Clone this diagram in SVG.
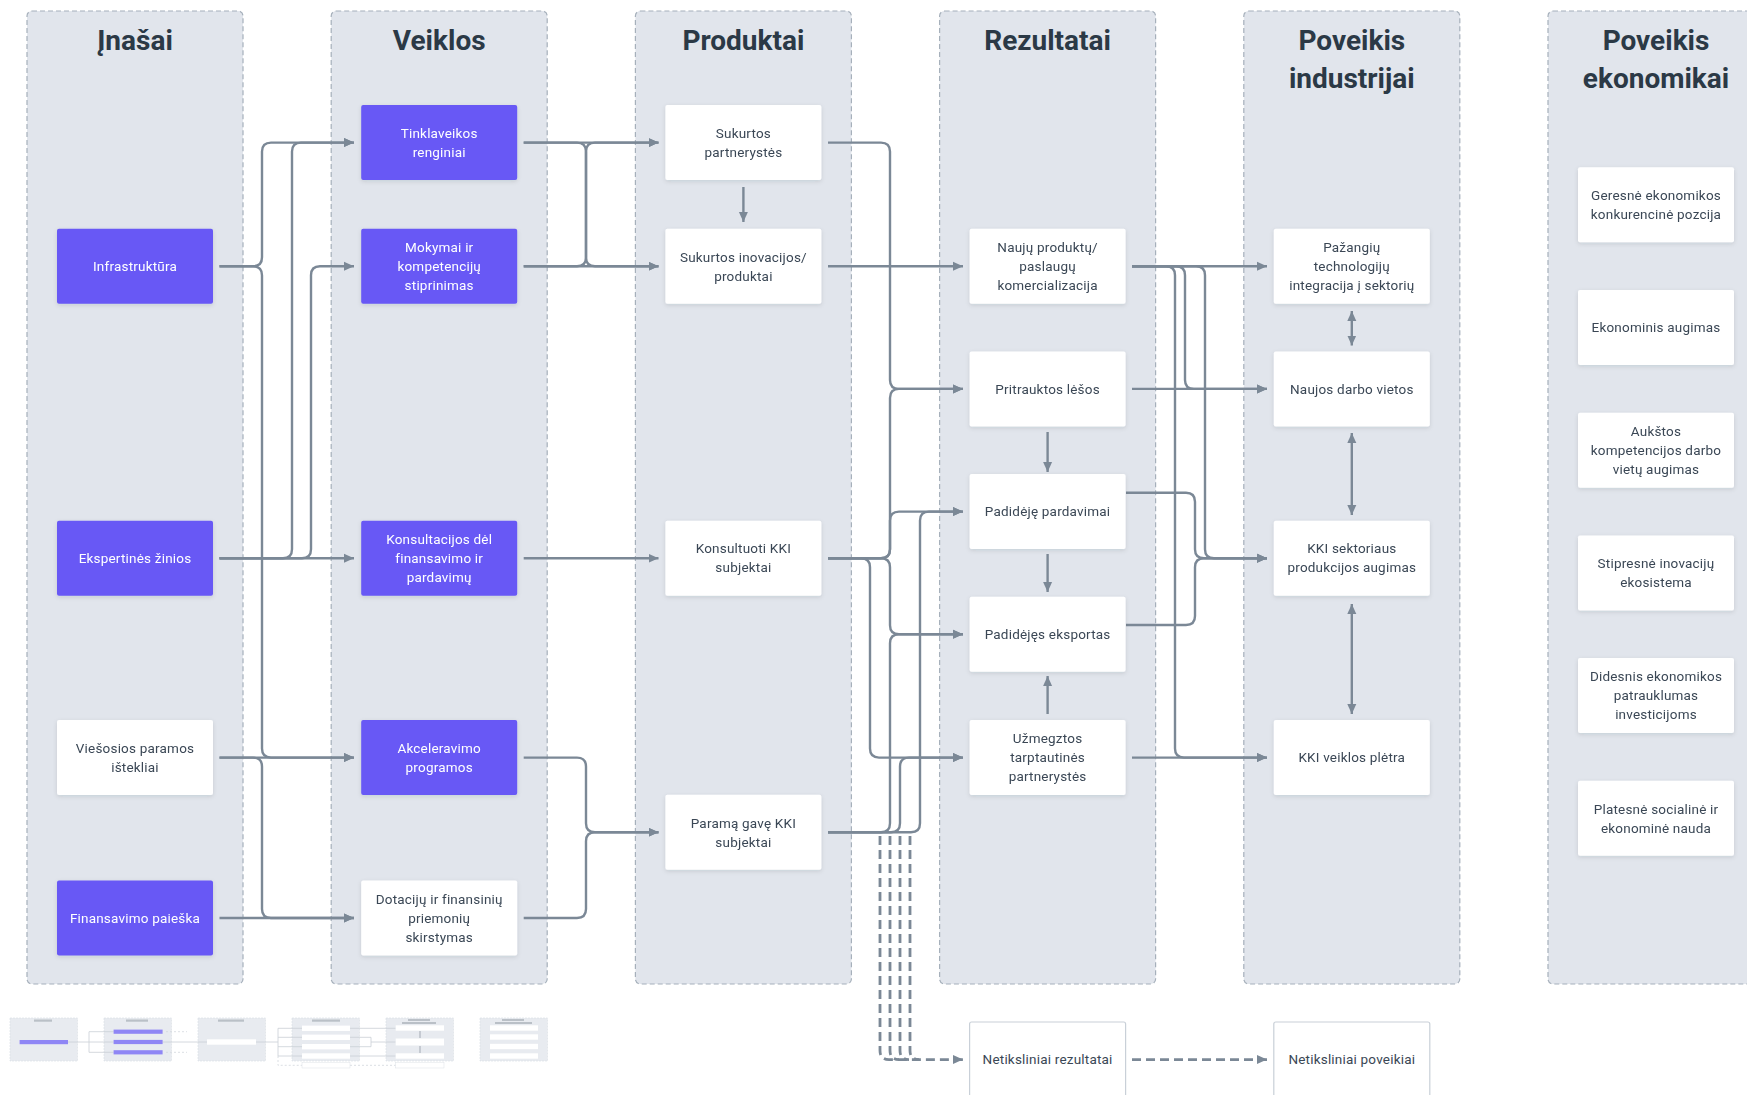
<svg xmlns="http://www.w3.org/2000/svg" width="1747" height="1095" viewBox="0 0 1747 1095">
<style>
.col{fill:#e1e5ec;stroke:#a6b0bb;stroke-width:1.2;stroke-dasharray:5 3}
.title{font-family:Roboto,"Liberation Sans",sans-serif;font-weight:700;font-size:28px;fill:#2b3946;text-anchor:middle}
.np rect{fill:#6759f5}
.nw rect{fill:#ffffff}
.np text,.nw text{font-family:Roboto,"Liberation Sans",sans-serif;font-size:13.5px;text-anchor:middle;letter-spacing:0.2px}
.np text{fill:#ffffff}
.nw text{fill:#3a4755}
.nb rect{fill:#ffffff;stroke:#c9d0d8;stroke-width:1.2}
.nb text{font-family:Roboto,"Liberation Sans",sans-serif;font-size:13.5px;text-anchor:middle;fill:#3a4755;letter-spacing:0.2px}
.c path{fill:none;stroke:#7b8896;stroke-width:2.4}
.c .a{marker-end:url(#ah)}
.c .b{marker-start:url(#ah);marker-end:url(#ah)}
.c .d{stroke-dasharray:9 5;stroke-width:2.8}
.mc{fill:#e3e7ed;stroke:#d0d6dd;stroke-width:0.6;stroke-dasharray:2 1}
.mt{fill:#a9b1ba}
.mp{fill:#7468f3}
.mw{fill:#ffffff}
.ml{fill:none;stroke:#bcc4cc;stroke-width:0.8}
.md{fill:none;stroke:#c6cdd4;stroke-width:0.8;stroke-dasharray:2 2}
</style>
<defs>
<marker id="ah" viewBox="0 0 10 10" refX="10" refY="5" markerWidth="10" markerHeight="10" markerUnits="userSpaceOnUse" orient="auto-start-reverse"><path d="M0,0.5 L10,5 L0,9.5 z" fill="#7b8896"/></marker>
<filter id="sh" x="-10%" y="-15%" width="120%" height="140%"><feDropShadow dx="0" dy="1.5" stdDeviation="2" flood-color="#1e2a3a" flood-opacity="0.12"/></filter>
</defs>
<rect width="1747" height="1095" fill="#ffffff"/>

<g id="columns">
<rect class="col" x="27" y="11" width="216" height="973" rx="5"/>
<rect class="col" x="331.2" y="11" width="216" height="973" rx="5"/>
<rect class="col" x="635.4" y="11" width="216" height="973" rx="5"/>
<rect class="col" x="939.6" y="11" width="216" height="973" rx="5"/>
<rect class="col" x="1243.8" y="11" width="216" height="973" rx="5"/>
<rect class="col" x="1548" y="11" width="216" height="973" rx="5"/>
<text class="title" x="135" y="50">Įnašai</text>
<text class="title" x="439.2" y="50">Veiklos</text>
<text class="title" x="743.4" y="50">Produktai</text>
<text class="title" x="1047.6" y="50">Rezultatai</text>
<text class="title" x="1351.8"><tspan x="1351.8" y="50">Poveikis</tspan><tspan x="1351.8" y="88">industrijai</tspan></text>
<text class="title" x="1656"><tspan x="1656" y="50">Poveikis</tspan><tspan x="1656" y="88">ekonomikai</tspan></text>
</g>

<g id="connectors" class="c">
<path class="a" d="M219.5 266.3 H253 Q262 266.3 262 257.3 V151.6 Q262 142.6 271 142.6 H354"/>
<path class="a" d="M219.5 266.3 H253 Q262 266.3 262 275.3 V748.6 Q262 757.6 271 757.6 H354"/>
<path class="a" d="M219.5 757.6 H253 Q262 757.6 262 766.6 V909 Q262 918 271 918 H354"/>
<path class="a" d="M219.5 757.6 H354"/>
<path class="a" d="M219.5 918 H354"/>
<path class="a" d="M219.5 558.2 H283 Q292 558.2 292 549.2 V151.6 Q292 142.6 301 142.6 H354"/>
<path class="a" d="M219.5 558.2 H302 Q311 558.2 311 549.2 V275.3 Q311 266.3 320 266.3 H354"/>
<path class="a" d="M219.5 558.2 H354"/>
<path class="a" d="M523.7 142.6 H658.5"/>
<path class="a" d="M523.7 266.3 H658.5"/>
<path class="a" d="M523.7 142.6 H577 Q586 142.6 586 151.6 V257.3 Q586 266.3 595 266.3 H658.5"/>
<path class="a" d="M523.7 266.3 H577 Q586 266.3 586 257.3 V151.6 Q586 142.6 595 142.6 H658.5"/>
<path class="a" d="M523.7 558.2 H658.5"/>
<path class="a" d="M523.7 757.6 H577 Q586 757.6 586 766.6 V823.3 Q586 832.3 595 832.3 H658.5"/>
<path class="a" d="M523.7 918 H577 Q586 918 586 909 V841.3 Q586 832.3 595 832.3 H658.5"/>
<path class="a" d="M743.4 187 V222"/>
<path class="a" d="M828 142.6 H881 Q890 142.6 890 151.6 V379.9 Q890 388.9 899 388.9 H963"/>
<path class="a" d="M828 266.3 H963"/>
<path class="a" d="M828 558.2 H881 Q890 558.2 890 549.2 V397.9 Q890 388.9 899 388.9 H963"/>
<path class="a" d="M828 558.2 H881 Q890 558.2 890 549.2 V520.6 Q890 511.6 899 511.6 H963"/>
<path class="a" d="M828 558.2 H881 Q890 558.2 890 567.2 V625.3 Q890 634.3 899 634.3 H963"/>
<path class="a" d="M828 558.2 H861 Q870 558.2 870 567.2 V748.6 Q870 757.6 879 757.6 H963"/>
<path class="a" d="M828 832.3 H881 Q890 832.3 890 823.3 V643.3 Q890 634.3 899 634.3 H963"/>
<path class="a" d="M828 832.3 H891 Q900 832.3 900 823.3 V766.6 Q900 757.6 909 757.6 H963"/>
<path class="a" d="M828 832.3 H911 Q920 832.3 920 823.3 V520.6 Q920 511.6 929 511.6 H963"/>
<path class="a d" d="M880 836 V1050.6 Q880 1059.6 889 1059.6 H963"/>
<path class="d" d="M890 836 V1050.6 Q890 1059.6 899 1059.6"/>
<path class="d" d="M900 836 V1050.6 Q900 1059.6 909 1059.6"/>
<path class="d" d="M910 836 V1050.6 Q910 1059.6 919 1059.6"/>
<path class="a" d="M1047.6 432 V472"/>
<path class="a" d="M1047.6 554 V592"/>
<path class="a" d="M1047.6 714 V676"/>
<path class="a" d="M1132 266.3 H1267"/>
<path class="a" d="M1132 266.3 H1176 Q1185 266.3 1185 275.3 V379.9 Q1185 388.9 1194 388.9 H1267"/>
<path class="a" d="M1132 266.3 H1166 Q1175 266.3 1175 275.3 V748.6 Q1175 757.6 1184 757.6 H1267"/>
<path class="a" d="M1132 266.3 H1196 Q1205 266.3 1205 275.3 V549.2 Q1205 558.2 1214 558.2 H1267"/>
<path class="a" d="M1132 388.9 H1267"/>
<path class="a" d="M1126 492.7 H1186 Q1195 492.7 1195 501.7 V549.2 Q1195 558.2 1204 558.2 H1267"/>
<path class="a" d="M1126 625 H1186 Q1195 625 1195 616 V567.2 Q1195 558.2 1204 558.2 H1267"/>
<path class="a" d="M1132 757.6 H1267"/>
<path class="a d" d="M1132 1059.6 H1267"/>
<path class="b" d="M1351.8 311 V345.5"/>
<path class="b" d="M1351.8 433 V515"/>
<path class="b" d="M1351.8 604 V714"/>
</g>

<g id="n-infrastruktura" class="np" filter="url(#sh)"><rect x="57" y="228.8" width="156" height="75" rx="2"/><text x="135" y="271">Infrastruktūra</text></g>
<g id="n-ekspertines" class="np" filter="url(#sh)"><rect x="57" y="520.7" width="156" height="75" rx="2"/><text x="135" y="562.9">Ekspertinės žinios</text></g>
<g id="n-viesosios" class="nw" filter="url(#sh)"><rect x="57" y="720.1" width="156" height="75" rx="2"/><text><tspan x="135" y="752.8">Viešosios paramos</tspan><tspan x="135" y="771.8">ištekliai</tspan></text></g>
<g id="n-finansavimo" class="np" filter="url(#sh)"><rect x="57" y="880.5" width="156" height="75" rx="2"/><text x="135" y="922.7">Finansavimo paieška</text></g>

<g id="n-tinklaveikos" class="np" filter="url(#sh)"><rect x="361.2" y="105.1" width="156" height="75" rx="2"/><text><tspan x="439.2" y="137.8">Tinklaveikos</tspan><tspan x="439.2" y="156.8">renginiai</tspan></text></g>
<g id="n-mokymai" class="np" filter="url(#sh)"><rect x="361.2" y="228.8" width="156" height="75" rx="2"/><text><tspan x="439.2" y="252">Mokymai ir</tspan><tspan x="439.2" y="271">kompetencijų</tspan><tspan x="439.2" y="290">stiprinimas</tspan></text></g>
<g id="n-konsultacijos" class="np" filter="url(#sh)"><rect x="361.2" y="520.7" width="156" height="75" rx="2"/><text><tspan x="439.2" y="543.9">Konsultacijos dėl</tspan><tspan x="439.2" y="562.9">finansavimo ir</tspan><tspan x="439.2" y="581.9">pardavimų</tspan></text></g>
<g id="n-akceleravimo" class="np" filter="url(#sh)"><rect x="361.2" y="720.1" width="156" height="75" rx="2"/><text><tspan x="439.2" y="752.8">Akceleravimo</tspan><tspan x="439.2" y="771.8">programos</tspan></text></g>
<g id="n-dotaciju" class="nw" filter="url(#sh)"><rect x="361.2" y="880.5" width="156" height="75" rx="2"/><text><tspan x="439.2" y="903.7">Dotacijų ir finansinių</tspan><tspan x="439.2" y="922.7">priemonių</tspan><tspan x="439.2" y="941.7">skirstymas</tspan></text></g>

<g id="n-partnerystes" class="nw" filter="url(#sh)"><rect x="665.4" y="105.1" width="156" height="75" rx="2"/><text><tspan x="743.4" y="137.8">Sukurtos</tspan><tspan x="743.4" y="156.8">partnerystės</tspan></text></g>
<g id="n-inovacijos" class="nw" filter="url(#sh)"><rect x="665.4" y="228.8" width="156" height="75" rx="2"/><text><tspan x="743.4" y="261.5">Sukurtos inovacijos/</tspan><tspan x="743.4" y="280.5">produktai</tspan></text></g>
<g id="n-konsultuoti" class="nw" filter="url(#sh)"><rect x="665.4" y="520.7" width="156" height="75" rx="2"/><text><tspan x="743.4" y="553.4">Konsultuoti KKI</tspan><tspan x="743.4" y="572.4">subjektai</tspan></text></g>
<g id="n-parama" class="nw" filter="url(#sh)"><rect x="665.4" y="794.8" width="156" height="75" rx="2"/><text><tspan x="743.4" y="827.5">Paramą gavę KKI</tspan><tspan x="743.4" y="846.5">subjektai</tspan></text></g>

<g id="n-nauju" class="nw" filter="url(#sh)"><rect x="969.6" y="228.8" width="156" height="75" rx="2"/><text><tspan x="1047.6" y="252">Naujų produktų/</tspan><tspan x="1047.6" y="271">paslaugų</tspan><tspan x="1047.6" y="290">komercializacija</tspan></text></g>
<g id="n-pritrauktos" class="nw" filter="url(#sh)"><rect x="969.6" y="351.4" width="156" height="75" rx="2"/><text x="1047.6" y="393.6">Pritrauktos lėšos</text></g>
<g id="n-pardavimai" class="nw" filter="url(#sh)"><rect x="969.6" y="474.1" width="156" height="75" rx="2"/><text x="1047.6" y="516.3">Padidėję pardavimai</text></g>
<g id="n-eksportas" class="nw" filter="url(#sh)"><rect x="969.6" y="596.8" width="156" height="75" rx="2"/><text x="1047.6" y="639">Padidėjęs eksportas</text></g>
<g id="n-uzmegztos" class="nw" filter="url(#sh)"><rect x="969.6" y="720.1" width="156" height="75" rx="2"/><text><tspan x="1047.6" y="743.3">Užmegztos</tspan><tspan x="1047.6" y="762.3">tarptautinės</tspan><tspan x="1047.6" y="781.3">partnerystės</tspan></text></g>

<g id="n-pazangiu" class="nw" filter="url(#sh)"><rect x="1273.8" y="228.8" width="156" height="75" rx="2"/><text><tspan x="1351.8" y="252">Pažangių</tspan><tspan x="1351.8" y="271">technologijų</tspan><tspan x="1351.8" y="290">integracija į sektorių</tspan></text></g>
<g id="n-darbo-vietos" class="nw" filter="url(#sh)"><rect x="1273.8" y="351.4" width="156" height="75" rx="2"/><text x="1351.8" y="393.6">Naujos darbo vietos</text></g>
<g id="n-kki-sektoriaus" class="nw" filter="url(#sh)"><rect x="1273.8" y="520.7" width="156" height="75" rx="2"/><text><tspan x="1351.8" y="553.4">KKI sektoriaus</tspan><tspan x="1351.8" y="572.4">produkcijos augimas</tspan></text></g>
<g id="n-kki-pletra" class="nw" filter="url(#sh)"><rect x="1273.8" y="720.1" width="156" height="75" rx="2"/><text x="1351.8" y="762.3">KKI veiklos plėtra</text></g>

<g id="n-geresne" class="nw" filter="url(#sh)"><rect x="1578" y="167.2" width="156" height="75" rx="2"/><text><tspan x="1656" y="199.9">Geresnė ekonomikos</tspan><tspan x="1656" y="218.9">konkurencinė pozcija</tspan></text></g>
<g id="n-ekonominis" class="nw" filter="url(#sh)"><rect x="1578" y="289.9" width="156" height="75" rx="2"/><text x="1656" y="332.1">Ekonominis augimas</text></g>
<g id="n-aukstos" class="nw" filter="url(#sh)"><rect x="1578" y="412.7" width="156" height="75" rx="2"/><text><tspan x="1656" y="435.9">Aukštos</tspan><tspan x="1656" y="454.9">kompetencijos darbo</tspan><tspan x="1656" y="473.9">vietų augimas</tspan></text></g>
<g id="n-stipresne" class="nw" filter="url(#sh)"><rect x="1578" y="535.4" width="156" height="75" rx="2"/><text><tspan x="1656" y="568.1">Stipresnė inovacijų</tspan><tspan x="1656" y="587.1">ekosistema</tspan></text></g>
<g id="n-didesnis" class="nw" filter="url(#sh)"><rect x="1578" y="658.1" width="156" height="75" rx="2"/><text><tspan x="1656" y="681.3">Didesnis ekonomikos</tspan><tspan x="1656" y="700.3">patrauklumas</tspan><tspan x="1656" y="719.3">investicijoms</tspan></text></g>
<g id="n-platesne" class="nw" filter="url(#sh)"><rect x="1578" y="780.8" width="156" height="75" rx="2"/><text><tspan x="1656" y="813.5">Platesnė socialinė ir</tspan><tspan x="1656" y="832.5">ekonominė nauda</tspan></text></g>

<g id="n-netiksliniai-rezultatai" class="nb"><rect x="969.6" y="1022" width="156" height="80" rx="2"/><text x="1047.6" y="1064.3">Netiksliniai rezultatai</text></g>
<g id="n-netiksliniai-poveikiai" class="nb"><rect x="1273.8" y="1022" width="156" height="80" rx="2"/><text x="1351.8" y="1064.3">Netiksliniai poveikiai</text></g>

<g id="minimap" opacity="0.8">
<rect class="mc" x="10" y="1018" width="67.5" height="43"/>
<rect class="mc" x="104" y="1018" width="67.5" height="43"/>
<rect class="mc" x="198" y="1018" width="67.5" height="43"/>
<rect class="mc" x="292" y="1018" width="67.5" height="43"/>
<rect class="mc" x="386" y="1018" width="67.5" height="43"/>
<rect class="mc" x="480" y="1018" width="67.5" height="43"/>
<rect class="mt" x="34" y="1019.5" width="18" height="2.2"/>
<rect class="mt" x="126" y="1019.5" width="22" height="2.2"/>
<rect class="mt" x="218" y="1019.5" width="26" height="2.2"/>
<rect class="mt" x="312" y="1019.5" width="28" height="2.2"/>
<rect class="mt" x="408" y="1019" width="22" height="2"/>
<rect class="mt" x="402" y="1022" width="34" height="2"/>
<rect class="mt" x="502" y="1019" width="22" height="2"/>
<rect class="mt" x="495" y="1022" width="37" height="2"/>
<path class="ml" d="M68 1042 H89 M89 1031.7 V1052.3 M89 1031.7 H113.6 M89 1042 H113.6 M89 1052.3 H113.6"/>
<path class="ml" d="M162.5 1042 H207"/>
<path class="md" d="M166 1031.7 H187 M166 1052.3 H187"/>
<path class="ml" d="M256 1042 H278 M278 1028.3 V1056 M278 1028.3 H302 M278 1037.3 H302 M278 1046.7 H302 M278 1056 H302"/>
<path class="md" d="M278 1056 V1065.3 H302"/>
<path class="ml" d="M350 1028.3 H395.7 M350 1037.3 H371 V1046.7 H350 M371 1042 H395.7 M350 1056 H395.7"/>
<path class="md" d="M350 1065.3 H395.7"/>
<path d="M420 1031 V1038 M420 1046 V1053" fill="none" stroke="#9aa3ad" stroke-width="1.2"/>
<rect class="mp" x="19.6" y="1040" width="48.4" height="4.2"/>
<rect class="mp" x="113.6" y="1029.6" width="49" height="4.2"/>
<rect class="mp" x="113.6" y="1039.9" width="49" height="4.2"/>
<rect class="mp" x="113.6" y="1050.2" width="49" height="4.2"/>
<rect class="mw" x="207" y="1039.3" width="49" height="5.4"/>
<rect class="mw" x="302" y="1025.6" width="48" height="5.4"/>
<rect class="mw" x="302" y="1034.6" width="48" height="5.4"/>
<rect class="mw" x="302" y="1044" width="48" height="5.4"/>
<rect class="mw" x="302" y="1053.3" width="48" height="5.4"/>
<rect class="mw" x="302" y="1062.6" width="48" height="5.4" stroke="#d5dbe1" stroke-width="0.5"/>
<rect class="mw" x="395.7" y="1025.3" width="48.3" height="5.4"/>
<rect class="mw" x="395.7" y="1038.5" width="48.3" height="7"/>
<rect class="mw" x="395.7" y="1053.3" width="48.3" height="5.4"/>
<rect class="mw" x="395.7" y="1062.6" width="48.3" height="5.4" stroke="#d5dbe1" stroke-width="0.5"/>
<rect class="mw" x="490" y="1025.3" width="48" height="5.4"/>
<rect class="mw" x="490" y="1034.3" width="48" height="5.4"/>
<rect class="mw" x="490" y="1043.8" width="48" height="5.4"/>
<rect class="mw" x="490" y="1053.3" width="48" height="5.4"/>
</g>
</svg>
